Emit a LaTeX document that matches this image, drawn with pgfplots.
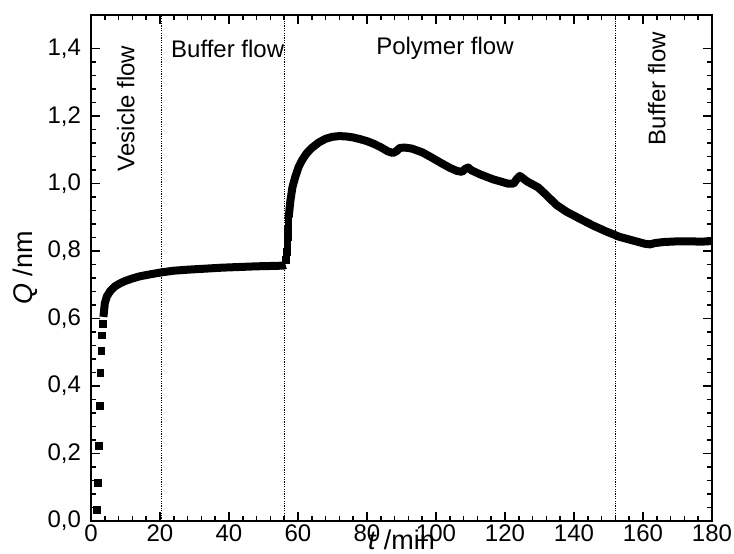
\documentclass[border=0pt]{standalone}
\usepackage{pgfplots}
\pgfplotsset{compat=1.18}
\usepackage{fontspec}
\setmainfont{Liberation Sans}
\begin{document}
\begin{tikzpicture}
\begin{axis}[
  scale only axis,
  width=310.5pt, height=253pt,
  xmin=0, xmax=180, ymin=0, ymax=1.5,
  xtick={0,20,...,180},
  ytick={0,0.2,...,1.4},
  minor x tick num=4,
  minor y tick num=4,
  tick align=inside,
  major tick length=4.5pt,
  minor tick length=2.5pt,
  every tick/.style={black, line width=0.75pt},
  axis line style={black, line width=1pt},
  /pgf/number format/assume math mode=true,
  xticklabel style={font=\fontsize{12}{14}\selectfont, yshift=1.5pt, /pgf/number format/.cd, fixed, precision=0},
  yticklabel style={font=\fontsize{12}{14}\selectfont, xshift=-1.5pt, /pgf/number format/.cd, use comma, fixed, fixed zerofill, precision=1},
  scaled ticks=false,
  xlabel={\textit{t} /min},
  ylabel={\textit{Q} /nm},
  xlabel style={font=\fontsize{13.5}{15}\selectfont, at={(axis description cs:0.5,0)}, anchor=base, yshift=-14pt},
  ylabel style={font=\fontsize{13.5}{15}\selectfont, at={(axis description cs:-0.106,0.5)}, anchor=center},
  clip=true,
]
% vertical dotted separators
\addplot[black, line width=0.5pt, dash pattern=on 0.6pt off 0.6pt] coordinates {(20.5,0) (20.5,1.5)};
\addplot[black, line width=0.5pt, dash pattern=on 0.6pt off 0.6pt] coordinates {(56.2,0) (56.2,1.5)};
\addplot[black, line width=0.5pt, dash pattern=on 0.6pt off 0.6pt] coordinates {(152,0) (152,1.5)};

% sparse early points
\addplot[only marks, mark=square*, mark size=1.7pt, black] coordinates {
(1.8,0.032) (2.1,0.114) (2.3,0.223) (2.5,0.341) (2.7,0.439) (3.0,0.505) (3.2,0.55) (3.4,0.585)
};
% plateau
\addplot[black, line width=4pt, line join=round, line cap=butt] coordinates {
(3.6,0.605) (4.0,0.645) (4.6,0.666) (5.6,0.682) (7,0.696) (8.5,0.705) (10,0.712) (12,0.719) (14,0.725) (17,0.731) (20.4,0.737) (24,0.742) (28,0.745) (33,0.748) (38,0.751) (43,0.753) (48,0.755) (52,0.756) (55.8,0.757) (56.4,0.759)
};
% jump points
\addplot[only marks, mark=square*, mark size=1.7pt, black] coordinates {
(56.6,0.775) (56.8,0.798) (56.9,0.82) (57.0,0.843) (57.1,0.866) (57.2,0.89)
};
% polymer and buffer flow
\addplot[black, line width=4pt, line join=round, line cap=butt] coordinates {
(57.3,0.90) (57.8,0.95) (58.4,0.99) (59.2,1.02) (60.2,1.05) (61.2,1.07) (62.5,1.09) (64,1.106) (66,1.122) (68,1.133) (70,1.139) (72,1.141) (74,1.14) (76,1.137) (78,1.132) (80,1.126) (82,1.118) (84,1.108) (86,1.096) (87.5,1.091) (88.5,1.096) (89.5,1.106) (91,1.107) (93,1.104) (96,1.093) (99,1.076) (101,1.064) (104,1.047) (106,1.038) (107.5,1.035) (108.5,1.044) (109.3,1.048) (110.2,1.04) (112.7,1.028) (116.5,1.013) (120.9,1.0) (122.5,1.0) (123.5,1.015) (124.3,1.023) (125.2,1.016) (126.5,1.006) (129.6,0.989) (132,0.966) (134.9,0.937) (137.8,0.917) (141.7,0.896) (145.5,0.876) (149.4,0.858) (153.3,0.842) (158,0.829) (160.5,0.822) (162,0.82) (163.5,0.824) (166,0.827) (170,0.829) (174,0.829) (177,0.828) (180,0.83)
};

\node[rotate=90, anchor=east, font=\fontsize{12}{14}\selectfont] at (axis cs:10.1,1.43) {Vesicle flow};
\node[anchor=west, font=\fontsize{12}{14}\selectfont] at (axis cs:21.2,1.40) {Buffer flow};
\node[anchor=center, font=\fontsize{12}{14}\selectfont] at (axis cs:102.6,1.40) {Polymer flow};
\node[rotate=90, anchor=east, font=\fontsize{12}{14}\selectfont] at (axis cs:164,1.47) {Buffer flow};
\end{axis}
\pgfresetboundingbox
\path[use as bounding box] (-45.5pt,-16pt) rectangle (321.5pt,260.5pt);
\end{tikzpicture}
\end{document}
